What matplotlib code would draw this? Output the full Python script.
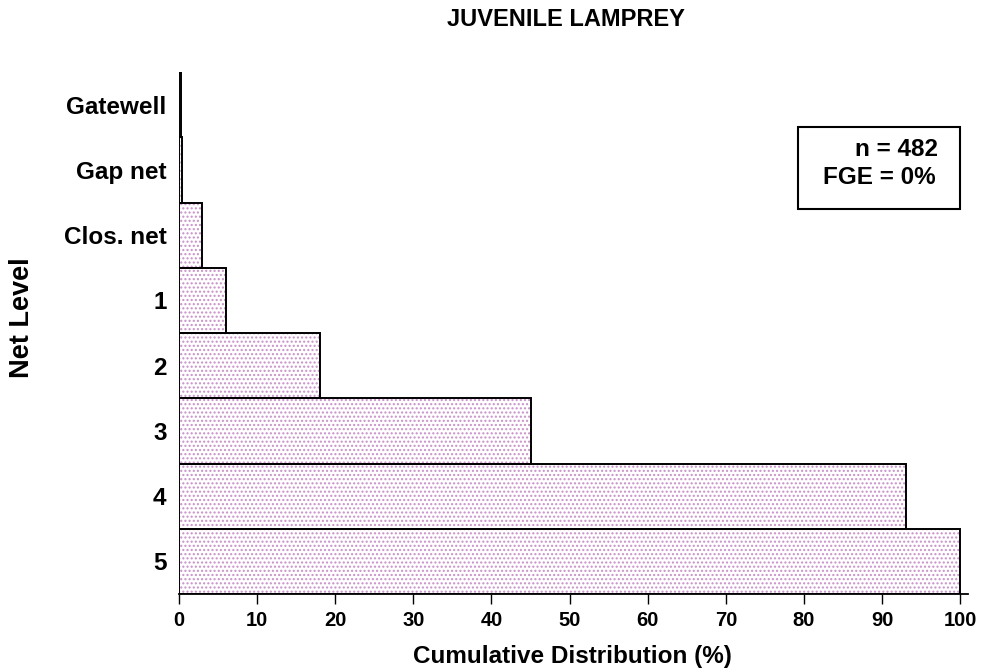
import matplotlib
matplotlib.use('Agg')
import matplotlib.pyplot as plt
from matplotlib.patches import Rectangle

plt.rcParams['font.family'] = ['Liberation Sans', 'DejaVu Sans']
plt.rcParams['font.weight'] = 'bold'
plt.rcParams['hatch.linewidth'] = 1.0

levels = ['5', '4', '3', '2', '1', 'Clos. net', 'Gap net', 'Gatewell']
cum_pct = [100, 93, 45, 18, 6, 3, 0.4, 0.25]
xticks = [0, 10, 20, 30, 40, 50, 60, 70, 80, 90, 100]

W, H = 982, 670
fig = plt.figure(figsize=(9.82, 6.7), dpi=100)
ax = fig.add_axes([179 / W, 1 - 594 / H, 789 / W, 522 / H])

ypos = list(range(len(levels)))
# dotted pink fill, then black outline on top
ax.barh(ypos, cum_pct, height=1.0, left=0, color='white', edgecolor='#c890c8',
        hatch='....', linewidth=0)
ax.barh(ypos, cum_pct, height=1.0, left=0, fill=False, edgecolor='black', linewidth=1.4)

ax.set_xlim(0, 101)
ax.set_ylim(-0.5, 7.5)
ax.set_xticks(xticks)
ax.set_yticks(ypos)
ax.set_yticklabels(levels, fontsize=17.5, fontweight='bold')
ax.tick_params(axis='x', labelsize=14.5, direction='out', length=7, width=1, pad=5)
ax.tick_params(axis='y', length=0, pad=9)
for lbl in ax.get_xticklabels():
    lbl.set_fontweight('bold')

for s in ['top', 'right', 'left']:
    ax.spines[s].set_visible(False)
ax.spines['bottom'].set_linewidth(1.3)

fig.text(572 / W, 1 - 656 / H, 'Cumulative Distribution (%)', ha='center', va='center',
         fontsize=17.5, fontweight='bold')
fig.text(22 / W, 1 - 318 / H, 'Net Level', ha='center', va='center', rotation=90,
         fontsize=19.5, fontweight='bold')
fig.text(447 / W, 1 - 20 / H, 'JUVENILE LAMPREY', ha='left', va='center',
         fontsize=17, fontweight='bold')

fig.patches.append(Rectangle((798 / W, 1 - 209 / H), 162 / W, 82 / H,
                             transform=fig.transFigure, fill=False, edgecolor='black', linewidth=1.5))
fig.text(938 / W, 1 - 150 / H, 'n = 482', ha='right', va='center', fontsize=17.5, fontweight='bold')
fig.text(936 / W, 1 - 177 / H, 'FGE = 0%', ha='right', va='center', fontsize=17.5, fontweight='bold')

fig.savefig('out.png', dpi=100)
